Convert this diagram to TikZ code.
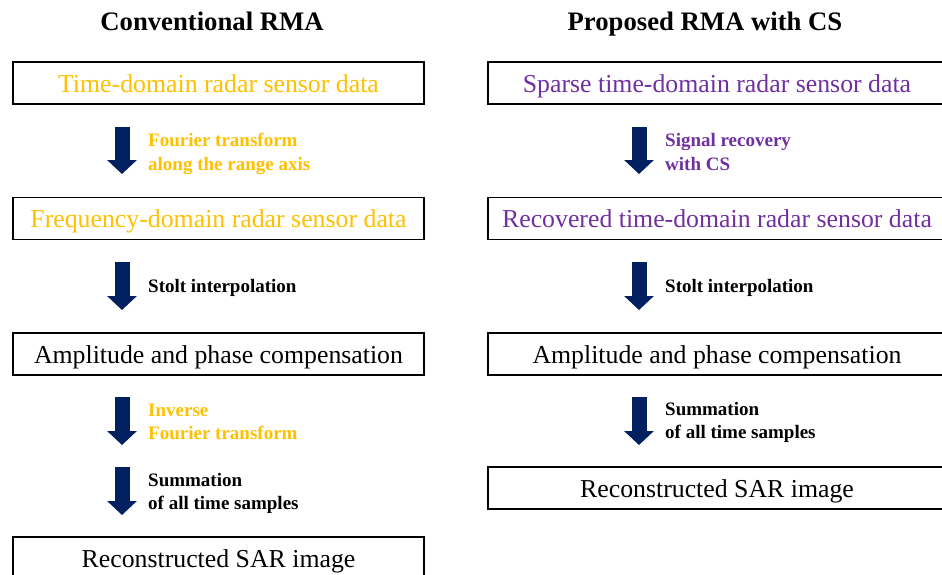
\documentclass[tikz,border=0pt]{standalone}
\usepackage{fontspec}
\setmainfont{Liberation Serif}
\usetikzlibrary{arrows.meta}
\definecolor{stepgold}{HTML}{FFC000}
\definecolor{steppurple}{HTML}{7030A0}
\definecolor{arrownavy}{HTML}{002060}
\tikzset{
  stage/.style={draw, line width=1.3pt, minimum height=42pt, inner sep=0pt,
    text height=20pt, text depth=2pt,
    font=\fontsize{25.8}{30}\selectfont},
  convstage/.style={stage, minimum width=411pt},
  propstage/.style={stage, minimum width=458pt},
  heading/.style={anchor=base, font=\fontsize{26.7}{30}\selectfont\bfseries},
  % base sits on the last line of a label
  steplabel/.style={anchor=base west, align=left, inner sep=0pt,
    font=\fontsize{19}{23.5}\selectfont\bfseries},
  blockarrow/.style={draw=arrownavy, line width=15pt,
    -{Triangle[width=29pt,length=14pt]}}
}
\begin{document}
\begin{tikzpicture}[x=1pt,y=-1pt]
\useasboundingbox (0,0) rectangle (942,574);
\clip (0,0) rectangle (942,574);

% column headings
\node[heading] (convtitle) at (212,30) {Conventional RMA};
\node[heading] (proptitle) at (705,30) {Proposed RMA with CS};

% conventional chain
\node[convstage, text=stepgold] (conv1) at (218.5,83) {Time-domain radar sensor data};
\node[convstage, text=stepgold] (conv2) at (218.5,218.5) {Frequency-domain radar sensor data};
\node[convstage] (conv3) at (218.5,354) {Amplitude and phase compensation};
\node[convstage] (conv4) at (218.5,558) {Reconstructed SAR image};

\coordinate (ca1) at (122,127);  \coordinate (cb1) at (122,174);
\coordinate (ca2) at (122,262);  \coordinate (cb2) at (122,310);
\coordinate (ca3) at (122,397);  \coordinate (cb3) at (122,445);
\coordinate (ca4) at (122,467);  \coordinate (cb4) at (122,515);
\foreach \i in {1,...,4}
  \draw[blockarrow] (ca\i) -- (cb\i);

\node[steplabel, text=stepgold] (convft) at (148,170) {Fourier transform\\along the range axis};
\node[steplabel] (convstolt) at (148,292) {Stolt interpolation};
\node[steplabel, text=stepgold] (convift) at (148,439.5) {Inverse\\Fourier transform};
\node[steplabel] (convsum) at (148,509.5) {Summation\\of all time samples};

% proposed chain
\node[propstage, text=steppurple] (prop1) at (717,83) {Sparse time-domain radar sensor data};
\node[propstage, text=steppurple] (prop2) at (717,218.5) {Recovered time-domain radar sensor data};
\node[propstage] (prop3) at (717,354) {Amplitude and phase compensation};
\node[propstage] (prop4) at (717,488) {Reconstructed SAR image};

\coordinate (pa1) at (639,127);  \coordinate (pb1) at (639,174);
\coordinate (pa2) at (639,262);  \coordinate (pb2) at (639,310);
\coordinate (pa3) at (639,397);  \coordinate (pb3) at (639,445);
\foreach \i in {1,...,3}
  \draw[blockarrow] (pa\i) -- (pb\i);

\node[steplabel, text=steppurple] (propcs) at (665,170) {Signal recovery\\with CS};
\node[steplabel] (propstolt) at (665,292) {Stolt interpolation};
\node[steplabel] (propsum) at (665,438.5) {Summation\\of all time samples};
\end{tikzpicture}
\end{document}
